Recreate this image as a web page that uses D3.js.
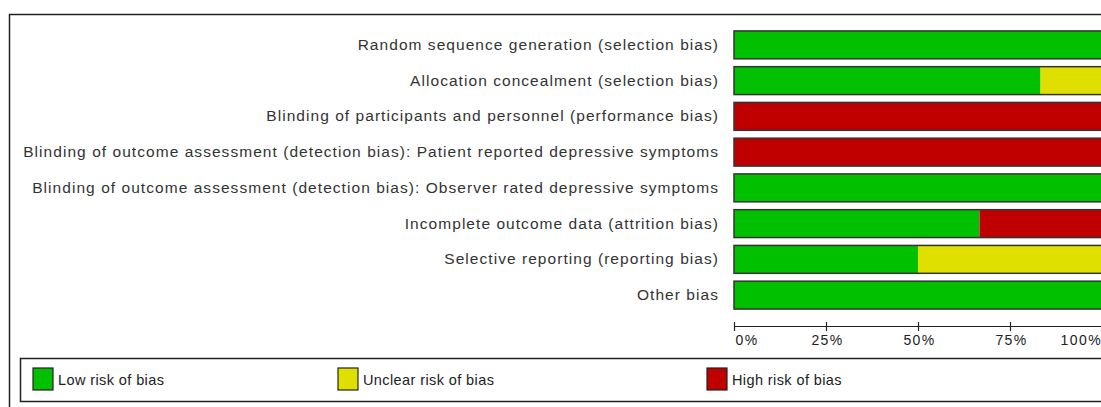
<!DOCTYPE html>
<html>
<head>
<meta charset="utf-8">
<script src="https://cdn.jsdelivr.net/npm/d3@7"></script>
<style>
  body { margin: 0; background: #fff; }
  text { font-family: Arial, "Liberation Sans", sans-serif; }
</style>
</head>
<body>
<div id="application"></div>
<script>
(function riskOfBias() {

  var width = 1101;
  var height = 407;

  var domains = [
    "Random sequence generation (selection bias)",
    "Allocation concealment (selection bias)",
    "Blinding of participants and personnel (performance bias)",
    "Blinding of outcome assessment (detection bias): Patient reported depressive symptoms",
    "Blinding of outcome assessment (detection bias): Observer rated depressive symptoms",
    "Incomplete outcome data (attrition bias)",
    "Selective reporting (reporting bias)",
    "Other bias"
  ];

  // percentages per domain
  var lowRisk = [100, 83.3, 0, 0, 100, 66.7, 50, 100];
  var unclearRisk = [0, 16.7, 0, 0, 0, 0, 50, 0];
  var highRisk = [0, 0, 100, 100, 0, 33.3, 0, 0];

  var seriesNames = ["Low risk of bias", "Unclear risk of bias", "High risk of bias"];
  var seriesColors = ["#00c000", "#e0e000", "#c00000"];
  var tickValues = [0, 25, 50, 75, 100];

  var svg = d3.select("#application")
    .append("svg")
    .attr("width", width)
    .attr("height", height);

  // outer frame
  svg.append("rect")
    .attr("x", 9.5).attr("y", 14.5)
    .attr("width", 1200).attr("height", 500)
    .attr("fill", "none")
    .attr("stroke", "#222")
    .attr("stroke-width", 1.5);

  var x = d3.scaleLinear()
    .domain([0, 100])
    .range([734, 1102]);

  var y = d3.scaleBand()
    .domain(domains)
    .range([27, 313])
    .paddingInner(0.22)
    .paddingOuter(0.11);

  var rows = domains.map(function(d, i) {
    return { name: d, low: lowRisk[i], unclear: unclearRisk[i], high: highRisk[i] };
  });

  var stack = d3.stack().keys(["low", "unclear", "high"]);
  var layers = stack(rows);

  var g = svg.append("g");

  layers.forEach(function(layer, k) {
    g.selectAll(null)
      .data(layer.filter(function(d) { return d[1] > d[0]; }))
      .enter()
      .append("rect")
      .attr("x", function(d) { return x(d[0]); })
      .attr("y", function(d) { return y(d.data.name); })
      .attr("width", function(d) { return x(d[1]) - x(d[0]); })
      .attr("height", y.bandwidth())
      .attr("fill", seriesColors[k]);
  });

  // bar outlines
  g.selectAll(".outline")
    .data(rows)
    .enter()
    .append("rect")
    .attr("class", "outline")
    .attr("x", x(0))
    .attr("y", function(d) { return y(d.name); })
    .attr("width", x(100) - x(0))
    .attr("height", y.bandwidth())
    .attr("fill", "none")
    .attr("stroke", "#333")
    .attr("stroke-width", 1.5);

  // row labels
  g.selectAll(".label")
    .data(domains)
    .enter()
    .append("text")
    .attr("class", "label")
    .attr("x", 719)
    .attr("y", function(d) { return y(d) + y.bandwidth() / 2 + 5; })
    .attr("text-anchor", "end")
    .style("font-size", "15.5px")
    .style("letter-spacing", "1.05px")
    .attr("fill", "#333")
    .text(function(d) { return d; });

  // percentage axis
  var axis = svg.append("g")
    .attr("transform", "translate(0,326)")
    .call(d3.axisBottom(x)
      .tickValues(tickValues)
      .tickSize(0)
      .tickFormat(function(d) { return d + "%"; }));
  axis.select(".domain").attr("stroke", "#222").attr("stroke-width", 1.2);
  axis.selectAll(".tick line").remove();
  axis.selectAll(".tick").append("line")
    .attr("y1", -4).attr("y2", 5)
    .attr("stroke", "#222").attr("stroke-width", 1.2);
  axis.selectAll(".tick text")
    .attr("y", 9)
    .attr("fill", "#222")
    .style("font-family", "Arial, 'Liberation Sans', sans-serif")
    .style("font-size", "14px")
    .style("letter-spacing", "1.4px")
    .attr("text-anchor", function(d) { return d === 0 ? "start" : (d === 100 ? "end" : "middle"); })
    .attr("dx", function(d) { return d === 100 ? -0.5 : 1; });

  // legend
  svg.append("rect")
    .attr("x", 20.5).attr("y", 358.5)
    .attr("width", 1200).attr("height", 43)
    .attr("fill", "none")
    .attr("stroke", "#222")
    .attr("stroke-width", 1.5);

  var legendX = [33, 338, 707];
  var legend = svg.selectAll(".legend")
    .data(seriesNames)
    .enter()
    .append("g")
    .attr("class", "legend")
    .attr("transform", function(d, i) { return "translate(" + legendX[i] + ",368)"; });

  legend.append("rect")
    .attr("width", 20).attr("height", 22)
    .attr("fill", function(d, i) { return seriesColors[i]; })
    .attr("stroke", "#222")
    .attr("stroke-width", 1.2);

  legend.append("text")
    .attr("x", 25)
    .attr("y", 17)
    .style("font-size", "14.5px")
    .style("letter-spacing", "0.4px")
    .attr("fill", "#222")
    .text(function(d) { return d; });

})();
</script>
</body>
</html>
